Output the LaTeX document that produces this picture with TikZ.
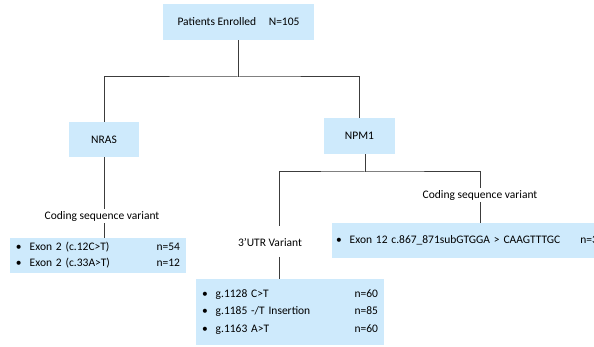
\documentclass[tikz,border=0pt]{standalone}
\usepackage{fontspec}
\setmainfont{Carlito}
\definecolor{boxblue}{RGB}{206,234,252}
\definecolor{linegray}{RGB}{60,60,60}
\begin{document}
\begin{tikzpicture}[x=1pt,y=-1pt,
  bluebox/.style={fill=boxblue,draw=none,inner sep=0pt,font=\fontsize{11.5}{13}\selectfont},
  lbl/.style={inner sep=2pt,font=\fontsize{11.5}{13}\selectfont},
  conn/.style={draw=linegray,line width=1pt}]
\clip (0,0) rectangle (594,347);
\fill[white] (0,0) rectangle (594,347);
% boxes
\node[bluebox,minimum width=151pt,minimum height=36pt] (top) at (238.5,22) {Patients Enrolled\hspace{1.1em}N=105};
\node[bluebox,minimum width=70pt,minimum height=35pt] (nras) at (104,139.5) {NRAS};
\node[bluebox,minimum width=71pt,minimum height=36pt] (npm1) at (359.5,136) {NPM1};
\node[lbl] (lcsv) at (102,216) {Coding sequence variant};
\node[lbl] (rcsv) at (480,195) {Coding sequence variant};
\node[lbl] (utr) at (270,242) {3'UTR Variant};
\node[bluebox,minimum width=176pt,minimum height=35pt,text width=164pt,align=left,
  font=\fontsize{11.5}{16}\selectfont] (lbox) at (98,255.5)
  {\textbullet\hspace{8pt}Exon 2 (c.12C>T)\hfill n=54\\
   \textbullet\hspace{8pt}Exon 2 (c.33A>T)\hfill n=12};
\node[bluebox,minimum width=270pt,minimum height=35pt,text width=262pt,align=left] (rbox) at (467,240.5)
  {\textbullet\hspace{8pt}Exon 12 c.867\_871subGTGGA > CAAGTTTGC\hfill n=3};
\node[bluebox,minimum width=188pt,minimum height=66pt,text width=176pt,align=left,
  font=\fontsize{11.5}{17.5}\selectfont] (bbox) at (290,312)
  {\textbullet\hspace{8pt}g.1128 C>T\hfill n=60\\
   \textbullet\hspace{8pt}g.1185 -/T Insertion\hfill n=85\\
   \textbullet\hspace{8pt}g.1163 A>T\hfill n=60};
% junctions
\coordinate (j1) at (238.5,77);
\coordinate (j2) at (365,172);
\coordinate (utrup) at (279,226);
\coordinate (utrdn) at (279,257);
% connectors
\draw[conn] (top.south) -- (j1);
\draw[conn] (nras.north) |- (j1) -| (npm1.north);
\draw[conn] (nras.south) -- (nras.south |- lcsv.north);
\draw[conn] (lcsv.south -| nras.south) -- (lbox.north -| nras.south);
\draw[conn] (npm1.south -| j2) -- (j2);
\draw[conn] (utrup) |- (j2) -| (rcsv.north);
\draw[conn] (rcsv.south) -- (rbox.north -| rcsv.south);
\draw[conn] (utrdn) -- (bbox.north -| utrdn);
\end{tikzpicture}
\end{document}
